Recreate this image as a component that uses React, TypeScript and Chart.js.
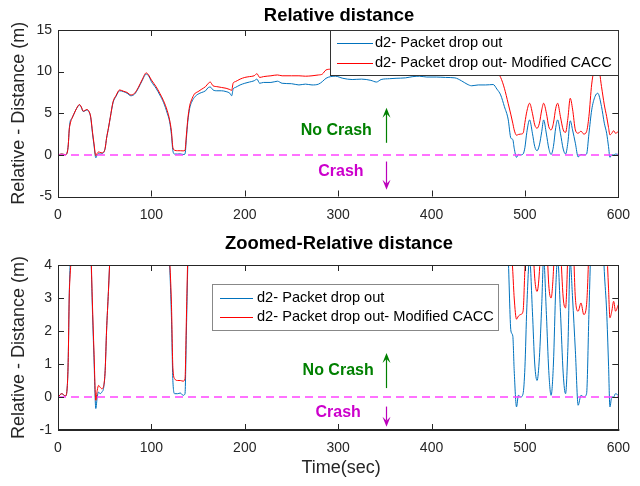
import React, { useEffect, useRef } from "react";
import { Chart, registerables } from "chart.js";
Chart.register(...registerables);

const T = [0,4,8,10,11,12,13,15,17,20,23,25,27,29,31,33,35,37,38.5,40.5,42,43.5,45,47,49,50.5,52,54,56,59,62,66,70,74,78,82,86,90,94.5,97,100,105,109,113,117,119.5,121.5,123,125,128,131,134,136,137.5,139,141,143,146,150,154,158,161,163,166,170,175,180,184,186,187.5,190,195,200,205,210,213,216,220,228,235,240,250,258,265,272,279,283,287,292,297,305,315,325,335,341,346,355,362,372,380,387,395,405,415,425,432,438,443,450,458,466,470,474,478,482,485,487,488.5,491,493,495.5,498,500,502,505,508,510.5,513,515.5,518,520,523,525.5,528,530.5,533,535,538,541,543.5,546,548.5,551,554,557,560,563,566,568.5,571.5,575,578,582,585,587.5,589.5,591,593,595,597,600];

const D2_DROP = [0,0.1,0.03,0.35,1.2,3.0,4.0,4.4,4.9,5.6,6.0,5.7,5.2,5.3,5.4,5.2,4.5,2.5,1.2,-0.35,0.0,0.15,0.1,0.15,0.3,0.8,2.0,3.2,4.5,6.3,7.0,7.7,7.6,7.4,7.1,7.3,8.0,8.9,9.7,9.5,8.8,8.0,7.2,6.3,5.0,4.0,2.4,0.5,0.1,0.1,0.12,0.05,0.1,2.0,4.0,5.6,6.3,6.9,7.3,7.5,7.7,8.1,8.15,7.8,7.7,7.7,7.6,7.4,7.1,7.9,8.1,8.4,8.6,8.75,8.9,9.1,8.6,8.7,8.7,8.85,8.6,8.55,8.4,8.5,8.4,8.5,8.8,9.2,9.4,9.45,9.2,9.05,9.1,8.95,8.75,9.05,9.15,9.2,9.25,9.4,9.45,9.35,9.35,9.3,9.25,8.9,8.5,8.3,8.4,8.4,8.45,7.9,7.2,5.8,4.3,2.0,1.85,0.8,-0.3,0.05,0.0,0.1,0.9,2.7,4.2,2.6,1.0,0.5,1.2,2.8,4.2,2.5,0.8,0.05,1.0,3.3,4.2,2.6,0.7,0.1,1.5,4.1,3.0,1.4,-0.25,0.05,0.0,0.1,2.5,5.4,7.0,7.4,5.8,3.8,2.6,1.0,-0.3,0.0,0.0,0.1,0.05];

const D2_CACC = [0,0.1,0.03,0.35,1.2,3.0,3.7,4.4,4.9,5.6,6.05,5.75,5.25,5.35,5.45,5.25,4.6,2.7,1.4,-0.1,0.2,0.35,0.3,0.25,0.35,0.8,2.0,3.2,4.5,6.4,7.1,7.8,7.65,7.5,7.2,7.4,8.1,9.0,9.85,9.6,9.0,8.2,7.4,6.5,5.3,4.2,2.8,0.9,0.55,0.5,0.5,0.48,0.55,2.4,4.3,5.9,6.6,7.3,7.6,7.9,8.2,8.6,8.75,8.3,8.2,8.1,8.0,7.85,7.75,8.6,8.8,9.1,9.3,9.4,9.5,9.75,9.3,9.4,9.5,9.6,9.5,9.5,9.5,9.45,9.5,9.6,9.7,10.2,10.3,10.4,10.5,10.4,10.5,10.4,10.3,10.5,10.5,10.6,10.6,10.7,10.7,10.6,10.6,10.5,10.5,10.2,10.0,10.0,10.1,10.1,10.0,9.9,9.3,8.0,6.2,4.8,3.8,3.0,2.36,2.45,2.5,2.6,3.9,5.2,6.2,5.0,3.6,3.2,3.8,5.4,6.2,5.0,3.4,3.0,3.8,5.6,6.2,4.6,3.0,2.7,4.4,6.8,5.5,3.0,2.6,2.85,2.5,2.8,4.6,8.5,10.6,11.0,8.2,6.0,4.6,3.3,2.4,2.6,2.9,2.6,2.8];

const X_TICKS = [0, 100, 200, 300, 400, 500, 600];
const TOP_Y_TICKS = [-5, 0, 5, 10, 15];
const ZOOM_Y_TICKS = [-1, 0, 1, 2, 3, 4];
const SERIES_LABELS = ["d2- Packet drop out", "d2- Packet drop out- Modified CACC"];
const TITLES = ["Relative distance", "Zoomed-Relative distance"];
const Y_LABEL = "Relative - Distance (m)";
const X_LABEL = "Time(sec)";
const CRASH_LINE = [0, 0];

const FONT = '"Liberation Sans", Arial, Helvetica, sans-serif';
const BLUE = "#0072BD";
const RED = "#FF0000";
const AX = "#262626";

type Annot = {
  noCrash: [number, number];
  crash: [number, number];
  arrowX: number;
  upArrow: [number, number];
  downArrow: [number, number];
};

type PanelCfg = {
  title: string;
  titleX: number;
  titleSize: number;
  yMin: number;
  yMax: number;
  yTicks: number[];
  legend: { x: number; y: number; w: number; h: number; lineX0: number; lineX1: number; textX: number; row1: number; row2: number; border: string };
  annot: Annot;
  xLabel: boolean;
  thickBottom: boolean;
};

function arrow(ctx: CanvasRenderingContext2D, x: number, y0: number, y1: number, color: string) {
  ctx.strokeStyle = color;
  ctx.fillStyle = color;
  ctx.lineWidth = 1.2;
  const dir = y1 < y0 ? -1 : 1;
  const headLen = 10;
  ctx.beginPath();
  ctx.moveTo(x, y0);
  ctx.lineTo(x, y1 - dir * headLen * 0.6);
  ctx.stroke();
  ctx.beginPath();
  ctx.moveTo(x, y1);
  ctx.lineTo(x - 4, y1 - dir * headLen);
  ctx.lineTo(x, y1 - dir * headLen * 0.6);
  ctx.lineTo(x + 4, y1 - dir * headLen);
  ctx.closePath();
  ctx.fill();
}

function decor(cfg: PanelCfg) {
  return {
    id: "matlabDecor",
    afterDraw(chart: any) {
      const { ctx, chartArea: a, scales } = chart;
      const xs = scales.x;
      const ys = scales.y;
      ctx.save();
      ctx.strokeStyle = AX;
      ctx.lineWidth = 1;
      ctx.strokeRect(Math.round(a.left) + 0.5, Math.round(a.top) + 0.5, Math.round(a.right - a.left), Math.round(a.bottom - a.top));
      if (cfg.thickBottom) {
        ctx.lineWidth = 2;
        ctx.beginPath();
        ctx.moveTo(a.left, a.bottom);
        ctx.lineTo(a.right + 1, a.bottom);
        ctx.stroke();
        ctx.lineWidth = 1;
      }
      const tl = 6;
      ctx.beginPath();
      X_TICKS.forEach((v) => {
        const px = Math.round(xs.getPixelForValue(v)) + 0.5;
        ctx.moveTo(px, a.bottom);
        ctx.lineTo(px, a.bottom - tl);
        ctx.moveTo(px, a.top);
        ctx.lineTo(px, a.top + tl);
      });
      cfg.yTicks.forEach((v) => {
        const py = Math.round(ys.getPixelForValue(v)) + 0.5;
        ctx.moveTo(a.left, py);
        ctx.lineTo(a.left + tl, py);
        ctx.moveTo(a.right, py);
        ctx.lineTo(a.right - tl, py);
      });
      ctx.stroke();

      ctx.fillStyle = "#000";
      ctx.font = `bold ${cfg.titleSize}px ${FONT}`;
      ctx.textAlign = "center";
      ctx.textBaseline = "middle";
      ctx.fillText(cfg.title, cfg.titleX, 16);

      ctx.save();
      ctx.translate(19, (a.top + a.bottom) / 2);
      ctx.rotate(-Math.PI / 2);
      ctx.font = `18px ${FONT}`;
      ctx.fillStyle = AX;
      ctx.fillText(Y_LABEL, 0, 0);
      ctx.restore();

      if (cfg.xLabel) {
        ctx.font = `18px ${FONT}`;
        ctx.fillStyle = AX;
        ctx.fillText(X_LABEL, (a.left + a.right) / 2 + 3, a.bottom + 38);
      }

      const an = cfg.annot;
      ctx.font = `bold 16px ${FONT}`;
      ctx.fillStyle = "#008000";
      ctx.fillText("No Crash", xs.getPixelForValue(an.noCrash[0]), ys.getPixelForValue(an.noCrash[1]));
      ctx.fillStyle = "#CC00CC";
      ctx.fillText("Crash", xs.getPixelForValue(an.crash[0]), ys.getPixelForValue(an.crash[1]));
      const ax = Math.round(xs.getPixelForValue(an.arrowX)) + 0.5;
      arrow(ctx, ax, ys.getPixelForValue(an.upArrow[0]), ys.getPixelForValue(an.upArrow[1]), "#008000");
      arrow(ctx, ax, ys.getPixelForValue(an.downArrow[0]), ys.getPixelForValue(an.downArrow[1]), "#BB00BB");

      const L = cfg.legend;
      ctx.fillStyle = "#fff";
      ctx.fillRect(L.x, L.y, L.w, L.h);
      ctx.strokeStyle = L.border;
      ctx.lineWidth = 1;
      ctx.strokeRect(L.x + 0.5, L.y + 0.5, L.w, L.h);
      ctx.strokeStyle = BLUE;
      ctx.beginPath();
      ctx.moveTo(L.lineX0, L.row1 + 0.5);
      ctx.lineTo(L.lineX1, L.row1 + 0.5);
      ctx.stroke();
      ctx.strokeStyle = RED;
      ctx.beginPath();
      ctx.moveTo(L.lineX0, L.row2 + 0.5);
      ctx.lineTo(L.lineX1, L.row2 + 0.5);
      ctx.stroke();
      ctx.fillStyle = "#000";
      ctx.font = `14.6px ${FONT}`;
      ctx.textAlign = "left";
      ctx.fillText(SERIES_LABELS[0], L.textX, L.row1);
      ctx.fillText(SERIES_LABELS[1], L.textX, L.row2);
      ctx.restore();
    },
  };
}

function buildChart(canvas: HTMLCanvasElement, cfg: PanelCfg, padTop: number, xHeight: number) {
  const pts = (vals: number[]) => T.map((t, i) => ({ x: t, y: vals[i] }));
  return new Chart(canvas, {
    type: "line",
    data: {
      datasets: [
        { label: SERIES_LABELS[0], data: pts(D2_DROP), borderColor: BLUE, borderWidth: 1, pointRadius: 0, cubicInterpolationMode: "monotone", order: 3 } as any,
        { label: SERIES_LABELS[1], data: pts(D2_CACC), borderColor: RED, borderWidth: 1, pointRadius: 0, cubicInterpolationMode: "monotone", order: 2 } as any,
        { label: "crash", data: [{ x: 0, y: CRASH_LINE[0] }, { x: 600, y: CRASH_LINE[1] }], borderColor: "#FF44FF", borderWidth: 1.5, borderDash: [8, 5], pointRadius: 0, order: 1 } as any,
      ],
    },
    options: {
      animation: false,
      responsive: false,
      devicePixelRatio: 1,
      layout: { padding: { top: padTop, right: 20, left: 0, bottom: 0 } },
      plugins: { legend: { display: false }, title: { display: false }, tooltip: { enabled: false } },
      scales: {
        x: {
          type: "linear",
          min: 0,
          max: 600,
          grid: { display: false, drawTicks: false },
          border: { display: false },
          ticks: { padding: 10, color: AX, font: { family: FONT, size: 14 }, maxRotation: 0, autoSkip: false },
          afterBuildTicks: (s: any) => { s.ticks = X_TICKS.map((v) => ({ value: v })); },
          afterFit: (s: any) => { s.height = xHeight; },
        },
        y: {
          type: "linear",
          min: cfg.yMin,
          max: cfg.yMax,
          grid: { display: false, drawTicks: false },
          border: { display: false },
          ticks: { padding: 6, color: AX, font: { family: FONT, size: 14 }, autoSkip: false },
          afterBuildTicks: (s: any) => { s.ticks = cfg.yTicks.map((v) => ({ value: v })); },
          afterFit: (s: any) => { s.width = 58; },
        },
      },
    } as any,
    plugins: [decor(cfg)],
  });
}

const TOP_CFG: PanelCfg = {
  title: TITLES[0],
  titleX: 339,
  titleSize: 18.4,
  yMin: -5,
  yMax: 15,
  yTicks: TOP_Y_TICKS,
  legend: { x: 330, y: 30, w: 288, h: 45, lineX0: 337, lineX1: 373, textX: 375, row1: 43, row2: 63, border: "#333" },
  annot: { noCrash: [298, 2.9], crash: [303, -2.0], arrowX: 351.5, upArrow: [1.45, 5.66], downArrow: [-0.8, -4.2] },
  xLabel: false,
  thickBottom: false,
};

const ZOOM_CFG: PanelCfg = {
  title: TITLES[1],
  titleX: 339,
  titleSize: 18.4,
  yMin: -1,
  yMax: 4,
  yTicks: ZOOM_Y_TICKS,
  legend: { x: 212, y: 284 - 228, w: 286, h: 46, lineX0: 220, lineX1: 253, textX: 257, row1: 298 - 228, row2: 317 - 228, border: "#888" },
  annot: { noCrash: [300, 0.79], crash: [300, -0.48], arrowX: 351.5, upArrow: [0.27, 1.33], downArrow: [-0.29, -0.9] },
  xLabel: true,
  thickBottom: true,
};

export default function App() {
  const topRef = useRef<HTMLCanvasElement>(null);
  const botRef = useRef<HTMLCanvasElement>(null);
  useEffect(() => {
    const c1 = buildChart(topRef.current!, TOP_CFG, 30, 31.5);
    const c2 = buildChart(botRef.current!, ZOOM_CFG, 37, 56);
    return () => {
      c1.destroy();
      c2.destroy();
    };
  }, []);
  return (
    <div style={{ position: "absolute", left: 0, top: 0, width: 640, height: 486, background: "#fff" }}>
      <canvas ref={topRef} width={640} height={228} style={{ position: "absolute", left: 0, top: 0 }} />
      <canvas ref={botRef} width={640} height={258} style={{ position: "absolute", left: 0, top: 228 }} />
    </div>
  );
}
